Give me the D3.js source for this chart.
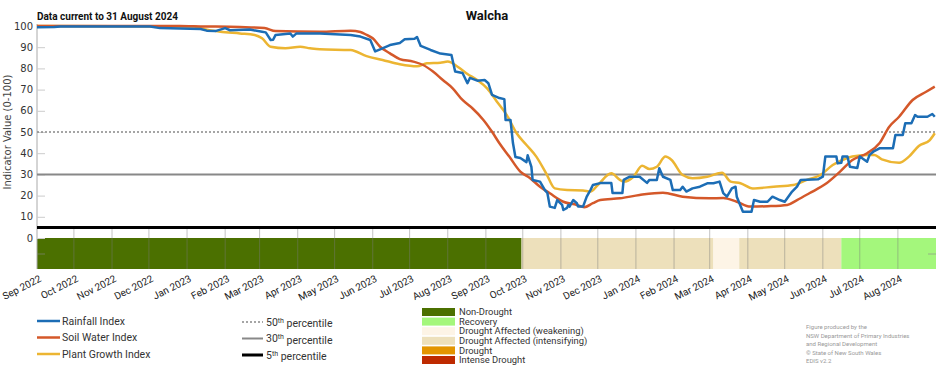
<!DOCTYPE html>
<meta charset="utf-8">
<html lang="en">
<head>
  <title>Walcha drought indicators</title>
  <script src="https://d3js.org/d3.v7.min.js"></script>
  <style>
    body { margin: 0; background: #fff; }
    text { font-family: Roboto, "Open Sans", sans-serif; }
  </style>
</head>
<body>
<div id="my_dataviz"></div>
<script>

// Rainfall Index (stepwise)
var rainfall = [
  ["2022-09-01",99.4],["2022-09-15",99.5],["2022-09-20",99.8],["2022-12-02",99.8],["2022-12-10",99],
  ["2023-01-12",98.6],["2023-01-17",97.8],["2023-01-24",97.6],["2023-01-28",98.3],["2023-02-01",99],
  ["2023-02-05",98],["2023-02-21",98.3],["2023-03-03",97.3],["2023-03-06",97],["2023-03-10",93.4],
  ["2023-03-12",93.5],["2023-03-14",95.8],["2023-03-26",96.5],["2023-03-28",95],["2023-03-31",96.5],
  ["2023-04-19",96.5],["2023-05-14",95.8],["2023-05-22",95],["2023-05-30",93.4],["2023-06-03",88],
  ["2023-06-07",89],["2023-06-15",91],["2023-06-23",92],["2023-06-27",93.7],["2023-07-05",94],
  ["2023-07-07",94.8],["2023-07-10",90.6],["2023-07-18",88.7],["2023-07-26",87],["2023-08-04",86.3],
  ["2023-08-07",78.5],["2023-08-13",77.8],["2023-08-17",73],["2023-08-19",75.5],["2023-08-25",74.2],
  ["2023-08-31",74.5],["2023-09-03",73],["2023-09-06",67.5],["2023-09-12",66],["2023-09-16",65.5],
  ["2023-09-17",55.7],["2023-09-21",55.7],["2023-09-23",44.8],["2023-09-25",38.2],["2023-09-29",37.7],
  ["2023-10-04",35.8],["2023-10-05",39],["2023-10-08",33.6],["2023-10-09",27.4],["2023-10-15",26.6],
  ["2023-10-19",22.6],["2023-10-21",21.2],["2023-10-23",14.8],["2023-10-27",14.2],["2023-10-29",17.9],
  ["2023-11-02",15.6],["2023-11-03",13.2],["2023-11-06",14.2],["2023-11-07",15.6],["2023-11-08",14.8],
  ["2023-11-11",17.9],["2023-11-14",16.4],["2023-11-15",14.8],["2023-11-19",14.8],["2023-11-22",19.5],
  ["2023-11-25",22.6],["2023-11-27",25],["2023-12-03",25.9],["2023-12-12",25.9],["2023-12-13",21.2],
  ["2023-12-21",21.2],["2023-12-22",27.4],["2023-12-27",28.9],["2024-01-04",28.9],["2024-01-10",26],
  ["2024-01-12",27.4],["2024-01-18",27.4],["2024-01-20",32.9],["2024-01-23",28.9],["2024-01-29",27.4],
  ["2024-01-31",22.6],["2024-02-06",22.6],["2024-02-08",24.2],["2024-02-11",21.9],["2024-02-16",23.4],
  ["2024-02-22",24.2],["2024-02-28",25.8],["2024-03-04",25.8],["2024-03-09",26.6],["2024-03-12",21.2],
  ["2024-03-15",19.5],["2024-03-19",23.4],["2024-03-22",24.2],["2024-03-23",19.5],["2024-03-28",12.4],
  ["2024-04-04",12.4],["2024-04-06",17.9],["2024-04-11",17.1],["2024-04-17",17.1],["2024-04-21",19.5],
  ["2024-04-27",17.9],["2024-05-01",17.1],["2024-05-07",21.9],["2024-05-11",24.2],["2024-05-14",27.4],
  ["2024-05-28",27.7],["2024-06-01",28.9],["2024-06-03",38.4],["2024-06-12",38.4],["2024-06-13",35.2],
  ["2024-06-16",35.5],["2024-06-17",38.4],["2024-06-21",38.4],["2024-06-23",33.6],["2024-06-29",33],
  ["2024-07-01",38.4],["2024-07-07",36],["2024-07-09",39.2],["2024-07-12",40.7],["2024-07-17",42.3],
  ["2024-07-28",42.3],["2024-07-30",48.6],["2024-08-05",48.6],["2024-08-07",54.1],["2024-08-12",54.1],
  ["2024-08-15",58],["2024-08-17",57.2],["2024-08-25",57.2],["2024-08-29",58.5],["2024-08-31",57.2]
];

// Soil Water Index
var soilWater = [
  ["2022-09-01",100],["2022-12-26",100],["2023-01-12",99.8],["2023-02-13",99.5],["2023-03-05",99],
  ["2023-03-14",97.6],["2023-04-19",97.3],["2023-05-14",97.8],["2023-05-22",97.2],["2023-05-27",95.8],
  ["2023-06-01",94.2],["2023-06-07",90.2],["2023-06-15",87.1],["2023-06-23",84.4],["2023-07-04",83.2],
  ["2023-07-12",81.6],["2023-07-20",78.5],["2023-07-28",74.5],["2023-08-05",70.6],["2023-08-13",65.1],
  ["2023-08-21",61.2],["2023-08-30",55.7],["2023-09-06",50.1],["2023-09-12",44.7],["2023-09-20",38.4],
  ["2023-09-29",31.3],["2023-10-07",28.2],["2023-10-15",24.2],["2023-10-23",21.1],["2023-11-03",17.1],
  ["2023-11-14",15.6],["2023-11-20",14.5],["2023-11-27",16.4],["2023-12-03",17.9],["2023-12-19",18.7],
  ["2024-01-04",20.3],["2024-01-23",21.4],["2024-02-08",19.5],["2024-03-01",18.7],["2024-03-12",18.9],
  ["2024-03-23",17.1],["2024-04-03",14.8],["2024-04-17",15],["2024-05-03",15.6],["2024-05-11",17.9],
  ["2024-05-21",21.1],["2024-06-04",25.8],["2024-06-15",31.3],["2024-06-25",36.8],["2024-07-07",40],
  ["2024-07-17",44.7],["2024-07-25",52.5],["2024-08-02",57.2],["2024-08-13",65.1],["2024-08-24",69],
  ["2024-08-31",71.4]
];

// Plant Growth Index
var plantGrowth = [
  ["2022-09-01",100],["2023-01-07",99.8],["2023-01-12",99],["2023-01-28",97.3],["2023-02-13",96.5],
  ["2023-02-25",95.8],["2023-03-03",94.2],["2023-03-10",90.2],["2023-03-22",89.5],["2023-04-03",90.2],
  ["2023-04-11",89.5],["2023-04-19",89],["2023-05-14",88.7],["2023-05-27",85.8],["2023-06-09",84],
  ["2023-06-23",82],["2023-07-07",81],["2023-07-15",82.4],["2023-07-26",82.7],["2023-08-01",83.2],
  ["2023-08-09",80.8],["2023-08-17",77.4],["2023-08-25",74.5],["2023-09-02",70.6],["2023-09-10",64.3],
  ["2023-09-18",58],["2023-09-26",49.4],["2023-10-04",43.9],["2023-10-12",38.4],["2023-10-20",30.5],
  ["2023-10-27",23.4],["2023-11-06",22.6],["2023-11-19",22.4],["2023-11-25",21.9],["2023-12-01",25],
  ["2023-12-12",30.5],["2023-12-19",27.4],["2023-12-22",26.6],["2023-12-30",28.9],["2024-01-06",34.1],
  ["2024-01-12",32.5],["2024-01-18",33.6],["2024-01-25",38.4],["2024-01-30",36.8],["2024-02-08",29.7],
  ["2024-02-16",28.2],["2024-02-28",28.9],["2024-03-11",30.8],["2024-03-18",26.6],["2024-03-26",25.8],
  ["2024-04-05",23.4],["2024-04-22",24.2],["2024-05-08",25],["2024-05-19",27.4],["2024-05-30",29.7],
  ["2024-06-09",34.4],["2024-06-17",36.8],["2024-06-25",38.4],["2024-07-07",39.2],["2024-07-13",39.2],
  ["2024-07-19",37.1],["2024-08-02",35.5],["2024-08-10",38.4],["2024-08-18",43.4],["2024-08-27",46.2],
  ["2024-08-31",49.4]
];

// drought status band
var categories = ["Non-Drought", "Recovery", "Drought Affected (weakening)",
                  "Drought Affected (intensifying)", "Drought", "Intense Drought"];
var categoryColors = ["#4b7000", "#a4f77c", "#fdf4e6", "#ede0bb", "#e39500", "#be2a00"];
var bandStart = ["2022-09-01", "2023-09-30", "2024-03-04", "2024-03-25", "2024-06-16"];
var bandEnd   = ["2023-09-30", "2024-03-04", "2024-03-25", "2024-06-16", "2024-09-01"];
var bandCat   = ["Non-Drought", "Drought Affected (intensifying)", "Drought Affected (weakening)",
                 "Drought Affected (intensifying)", "Recovery"];

var yTicks = [0, 10, 20, 30, 40, 50, 60, 70, 80, 90, 100];
var percentiles = [50, 30, 5];
var seriesNames = ["Rainfall Index", "Soil Water Index", "Plant Growth Index"];
var credits = ["Figure produced by the", "NSW Department of Primary Industries",
               "and Regional Development", "\u00a9 State of New South Wales", "EDIS v2.2"];

// plot frame (pixels)
var W = 952, H = 370;
var plotL = 37, plotR = 936, plotT = 26, plotZero = 238, bandBottom = 269;

var parse = d3.timeParse("%Y-%m-%d");
var fmt = d3.timeFormat("%b %Y");

var svg = d3.select("#my_dataviz")
  .append("svg")
    .attr("width", W)
    .attr("height", H);

var x = d3.scaleTime()
  .domain([parse("2022-09-01"), parse("2024-09-01")])
  .range([plotL, plotR]);

var y = d3.scaleLinear()
  .domain([0, 100])
  .range([plotZero, plotT]);

var colorOf = d3.scaleOrdinal().domain(categories).range(categoryColors);

// status band
svg.append("g")
  .selectAll("rect")
  .data(bandCat)
  .enter()
  .append("rect")
    .attr("x", function(d, i) { return x(parse(bandStart[i])); })
    .attr("width", function(d, i) { return x(parse(bandEnd[i])) - x(parse(bandStart[i])); })
    .attr("y", plotZero)
    .attr("height", bandBottom - plotZero)
    .style("fill", function(d) { return colorOf(d); });

// month gridlines below the plot
var months = x.ticks(d3.timeMonth.every(1)).filter(function(d) { return d < x.domain()[1]; });
svg.append("g")
  .selectAll("line")
  .data(months.slice(1))
  .enter()
  .append("line")
    .attr("x1", function(d) { return x(d); })
    .attr("x2", function(d) { return x(d); })
    .attr("y1", y(5) + 1)
    .attr("y2", bandBottom)
    .style("stroke", "#7a7a7a")
    .style("stroke-opacity", 0.45)
    .style("stroke-width", 1);

// x labels
svg.append("g")
  .selectAll("text")
  .data(months)
  .enter()
  .append("text")
    .attr("transform", function(d) { return "translate(" + (x(d) + 5) + ",281) rotate(-27)"; })
    .style("text-anchor", "end")
    .style("font-size", "10px")
    .style("fill", "#222")
    .text(function(d) { return fmt(d); });

// y axis
svg.append("line")
  .attr("x1", plotL).attr("x2", plotL)
  .attr("y1", plotT - 2).attr("y2", bandBottom)
  .style("stroke", "#aaa");

var yAxis = svg.append("g")
  .attr("transform", "translate(" + plotL + ",0)")
  .call(d3.axisRight(y).tickValues(yTicks).tickSize(8).tickFormat(""));
yAxis.select(".domain").remove();
yAxis.selectAll("line").style("stroke", "#ccc");

svg.append("g")
  .selectAll("text")
  .data(yTicks)
  .enter()
  .append("text")
    .attr("x", plotL - 4)
    .attr("y", function(d) { return y(d); })
    .attr("dy", "0.35em")
    .style("text-anchor", "end")
    .style("font-family", "DejaVu Sans, sans-serif")
    .style("font-size", "10px")
    .style("fill", "#333")
    .text(function(d) { return d; });

// small ticks inside the band
[plotL, plotR - 8].forEach(function(px) {
  svg.append("line")
    .attr("x1", px).attr("x2", px + 8)
    .attr("y1", 254).attr("y2", 254)
    .style("stroke", "#888").style("stroke-opacity", 0.6);
});

svg.append("text")
  .attr("transform", "translate(11," + y(50) + ") rotate(-90)")
  .style("text-anchor", "middle")
  .style("font-family", "DejaVu Sans, sans-serif")
  .style("font-size", "10px")
  .style("fill", "#444")
  .text("Indicator Value (0-100)");

// percentile lines
var pctStyle = [
  {stroke: "#888", width: 1.6, dash: "2,2"},
  {stroke: "#888", width: 2, dash: null},
  {stroke: "#000", width: 3, dash: null}
];
svg.append("g")
  .selectAll("line")
  .data(percentiles)
  .enter()
  .append("line")
    .attr("x1", plotL)
    .attr("x2", plotR)
    .attr("y1", function(d) { return y(d); })
    .attr("y2", function(d) { return y(d); })
    .style("stroke", function(d, i) { return pctStyle[i].stroke; })
    .style("stroke-width", function(d, i) { return pctStyle[i].width; })
    .style("stroke-dasharray", function(d, i) { return pctStyle[i].dash; });

// index lines
var lineColors = ["#1c6db5", "#d4582a", "#ecb532"];
var allSeries = [rainfall, soilWater, plantGrowth];
var curves = [d3.curveLinear, d3.curveMonotoneX, d3.curveMonotoneX];
var order = [2, 1, 0];

order.forEach(function(k) {
  var line = d3.line()
    .curve(curves[k])
    .x(function(d) { return x(parse(d[0])); })
    .y(function(d) { return y(d[1]); });
  svg.append("path")
    .datum(allSeries[k])
    .attr("d", line)
    .style("fill", "none")
    .style("stroke", lineColors[k])
    .style("stroke-width", 2.5)
    .style("stroke-linejoin", "round");
});

// title
svg.append("text")
  .attr("x", 487).attr("y", 20)
  .style("text-anchor", "middle")
  .style("font-weight", "bold")
  .style("font-size", "13px")
  .style("fill", "#111")
  .text("Walcha");

svg.append("text")
  .attr("x", plotL).attr("y", 20)
  .style("font-weight", "bold")
  .style("font-size", "10px")
  .style("fill", "#111")
  .text("Data current to 31 August 2024");

// legend: series
seriesNames.forEach(function(name, i) {
  var ly = 321 + i * 16.5;
  svg.append("line")
    .attr("x1", 37).attr("x2", 60).attr("y1", ly).attr("y2", ly)
    .style("stroke", lineColors[i]).style("stroke-width", 2.5);
  svg.append("text")
    .attr("x", 62).attr("y", ly).attr("dy", "0.35em")
    .style("font-size", "10.5px").style("fill", "#333")
    .text(name);
});

// legend: percentiles
percentiles.forEach(function(p, i) {
  var ly = 322 + i * 16.5;
  svg.append("line")
    .attr("x1", 242).attr("x2", 263).attr("y1", ly).attr("y2", ly)
    .style("stroke", pctStyle[i].stroke)
    .style("stroke-width", pctStyle[i].width)
    .style("stroke-dasharray", pctStyle[i].dash);
  var t = svg.append("text")
    .attr("x", 266).attr("y", ly).attr("dy", "0.35em")
    .style("font-size", "10.5px").style("fill", "#333");
  t.append("tspan").text(p);
  t.append("tspan").attr("dy", "-0.45em").style("font-size", "7px").text("th");
  t.append("tspan").attr("dy", "0.45em").text(" percentile");
});

// legend: drought categories
categories.forEach(function(c, i) {
  var ly = 308 + i * 9.6;
  svg.append("rect")
    .attr("x", 422).attr("y", ly).attr("width", 33).attr("height", 8)
    .style("fill", categoryColors[i]);
  svg.append("text")
    .attr("x", 459).attr("y", ly + 4).attr("dy", "0.35em")
    .style("font-size", "9.4px").style("fill", "#333")
    .text(c);
});

// credits
credits.forEach(function(c, i) {
  svg.append("text")
    .attr("x", 806).attr("y", 329 + i * 8.5)
    .style("font-size", "6px").style("fill", "#999")
    .text(c);
});

</script>
</body>
</html>
